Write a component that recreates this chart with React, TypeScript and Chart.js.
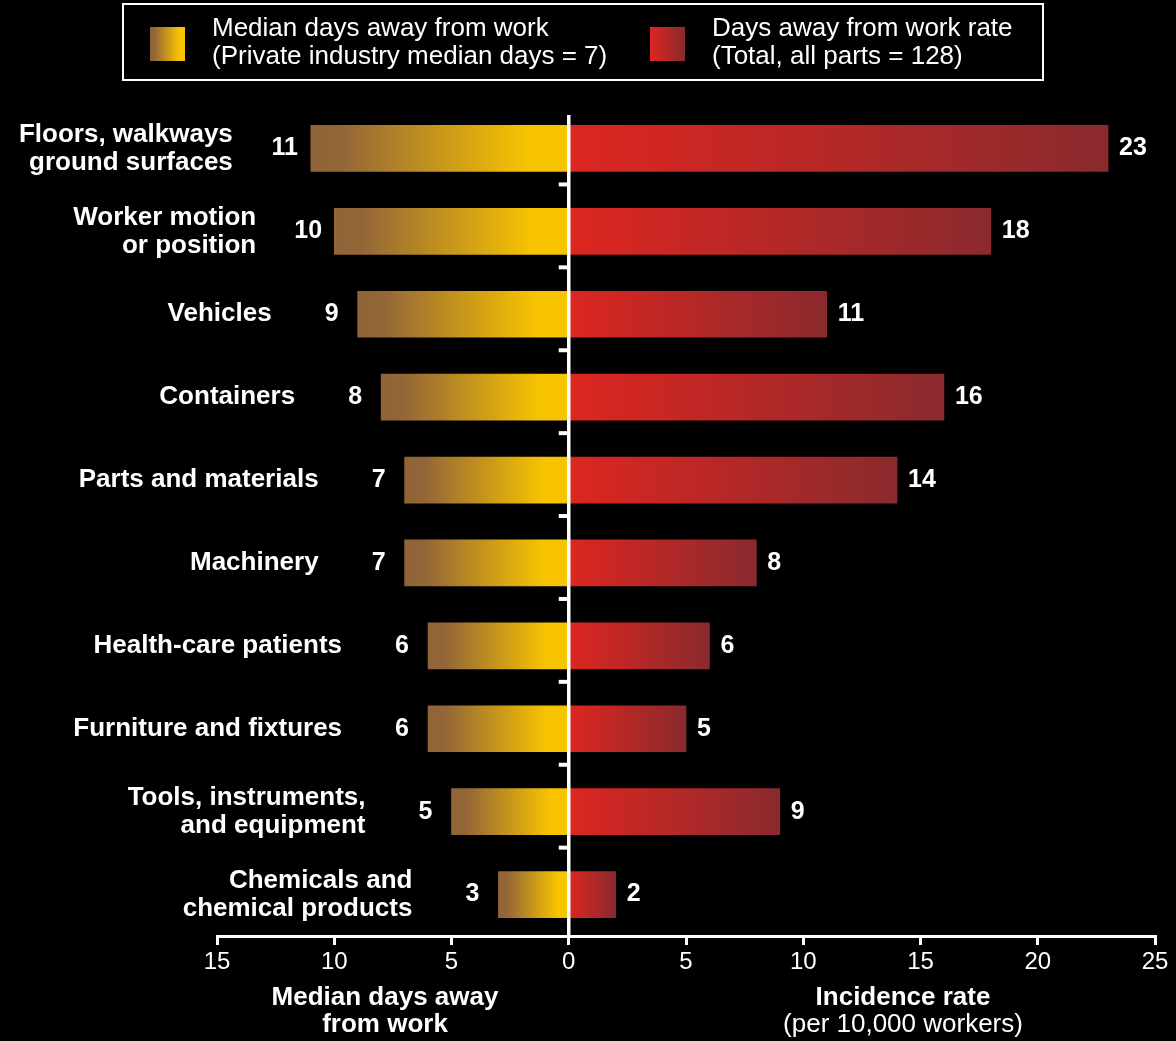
import React, { useEffect, useRef } from "react";
import { Chart, registerables } from "chart.js";

Chart.register(...registerables);

const categories: string[][] = [
  ["Floors, walkways", "ground surfaces"],
  ["Worker motion", "or position"],
  ["Vehicles"],
  ["Containers"],
  ["Parts and materials"],
  ["Machinery"],
  ["Health-care patients"],
  ["Furniture and fixtures"],
  ["Tools, instruments,", "and equipment"],
  ["Chemicals and", "chemical products"],
];
const medianDays: number[] = [11, 10, 9, 8, 7, 7, 6, 6, 5, 3];
const incidenceRate: number[] = [23, 18, 11, 16, 14, 8, 6, 5, 9, 2];
const xTickValues: number[] = [-15, -10, -5, 0, 5, 10, 15, 20, 25];

const legendLeft = ["Median days away from work", "(Private industry median days = 7)"];
const legendRight = ["Days away from work rate", "(Total, all parts = 128)"];
const leftTitle = ["Median days away", "from work"];
const rightTitle = ["Incidence rate", "(per 10,000 workers)"];

const FONT = "'Liberation Sans', Arial, Helvetica, sans-serif";

function yellowGrad(ctx: CanvasRenderingContext2D, x0: number, x1: number) {
  const g = ctx.createLinearGradient(x0, 0, x1, 0);
  g.addColorStop(0, "#8f6436");
  g.addColorStop(0.12, "#936638");
  g.addColorStop(0.85, "#f8c400");
  g.addColorStop(1, "#f8c400");
  return g;
}
function redGrad(ctx: CanvasRenderingContext2D, x0: number, x1: number) {
  const g = ctx.createLinearGradient(x0, 0, x1, 0);
  g.addColorStop(0, "#dd2620");
  g.addColorStop(1, "#8a2a2e");
  return g;
}

const overlay = {
  id: "overlay",
  beforeDraw(chart: any) {
    const ctx = chart.ctx as CanvasRenderingContext2D;
    ctx.save();
    ctx.fillStyle = "#000";
    ctx.fillRect(0, 0, chart.width, chart.height);
    ctx.restore();
  },
  afterDraw(chart: any) {
    const ctx = chart.ctx as CanvasRenderingContext2D;
    const xs = chart.scales.x;
    const ys = chart.scales.y;
    const ca = chart.chartArea;
    const x0 = xs.getPixelForValue(0);
    ctx.save();
    // legend
    ctx.strokeStyle = "#fff";
    ctx.lineWidth = 2;
    ctx.strokeRect(123, 4, 920, 76);
    ctx.fillStyle = yellowGrad(ctx, 150, 185);
    ctx.fillRect(150, 27, 35, 34);
    ctx.fillStyle = redGrad(ctx, 650, 685);
    ctx.fillRect(650, 27, 35, 34);
    ctx.fillStyle = "#fff";
    ctx.textBaseline = "middle";
    ctx.textAlign = "left";
    ctx.font = `26px ${FONT}`;
    ctx.fillText(legendLeft[0], 212, 29);
    ctx.fillText(legendLeft[1], 212, 57);
    ctx.fillText(legendRight[0], 712, 29);
    ctx.fillText(legendRight[1], 712, 57);

    // zero line
    ctx.strokeStyle = "#fff";
    ctx.lineWidth = 3.5;
    ctx.beginPath();
    ctx.moveTo(x0, 115);
    ctx.lineTo(x0, ca.bottom);
    ctx.stroke();
    // category ticks
    ctx.lineWidth = 4;
    for (let i = 0; i < categories.length - 1; i++) {
      const y = ys.getPixelForValue(i) + 36;
      ctx.beginPath();
      ctx.moveTo(x0 - 10, y);
      ctx.lineTo(x0, y);
      ctx.stroke();
    }

    // labels
    ctx.fillStyle = "#fff";
    for (let i = 0; i < categories.length; i++) {
      const yc = ys.getPixelForValue(i);
      const xl = xs.getPixelForValue(-medianDays[i]);
      const xr = xs.getPixelForValue(incidenceRate[i]);
      ctx.font = `bold 25px ${FONT}`;
      ctx.textAlign = "center";
      ctx.fillText(String(medianDays[i]), xl - 26, yc);
      ctx.textAlign = "left";
      ctx.fillText(String(incidenceRate[i]), xr + 11, yc);
      ctx.textAlign = "right";
      ctx.font = `bold 26px ${FONT}`;
      const lines = categories[i];
      const lh = 28;
      const start = yc - ((lines.length - 1) * lh) / 2;
      const off = medianDays[i] >= 10 ? 78 : 86;
      lines.forEach((ln, k) => ctx.fillText(ln, xl - off, start + k * lh));
    }

    // axis titles
    ctx.textAlign = "center";
    ctx.font = `bold 26px ${FONT}`;
    ctx.fillText(leftTitle[0], 385, 998);
    ctx.fillText(leftTitle[1], 385, 1025);
    ctx.fillText(rightTitle[0], 903, 998);
    ctx.font = `26px ${FONT}`;
    ctx.fillText(rightTitle[1], 903, 1025);
    ctx.restore();
  },
};

export default function App() {
  const ref = useRef<HTMLCanvasElement>(null);
  useEffect(() => {
    document.body.style.margin = "0";
    document.body.style.background = "#000";
    if (!ref.current) return;
    const chart = new Chart(ref.current, {
      type: "bar",
      data: {
        labels: categories.map((c) => c.join(" ")),
        datasets: [
          {
            label: legendLeft[0],
            data: medianDays.map((v) => -v),
            barThickness: 46,
            borderWidth: 0,
            backgroundColor: (c: any) => {
              const chart = c.chart;
              const xs = chart.scales?.x;
              if (!chart.chartArea || !xs || c.dataIndex === undefined) return "#f8c400";
              return yellowGrad(chart.ctx, xs.getPixelForValue(-medianDays[c.dataIndex]), xs.getPixelForValue(0));
            },
          },
          {
            label: legendRight[0],
            data: incidenceRate,
            barThickness: 46,
            borderWidth: 0,
            backgroundColor: (c: any) => {
              const chart = c.chart;
              const xs = chart.scales?.x;
              if (!chart.chartArea || !xs || c.dataIndex === undefined) return "#dd2620";
              return redGrad(chart.ctx, xs.getPixelForValue(0), xs.getPixelForValue(incidenceRate[c.dataIndex]));
            },
          },
        ],
      },
      options: {
        indexAxis: "y",
        responsive: false,
        animation: false,
        devicePixelRatio: 1,
        layout: { padding: { left: 217, right: 21, top: 107, bottom: 60 } },
        plugins: { legend: { display: false }, tooltip: { enabled: false } },
        scales: {
          x: {
            type: "linear",
            min: -15,
            max: 25,
            stacked: true,
            afterBuildTicks: (s: any) => {
              s.ticks = xTickValues.map((v) => ({ value: v }));
            },
            afterFit: (s: any) => {
              s.height = 45;
            },
            ticks: {
              color: "#fff",
              font: { size: 24, family: FONT },
              padding: 3,
              maxRotation: 0,
              callback: (v: any) => String(Math.abs(Number(v))),
            },
            grid: { drawOnChartArea: false, drawTicks: true, tickLength: 9, color: "#fff", lineWidth: 3 },
            border: { display: true, color: "#fff", width: 3 },
          },
          y: { type: "category", display: false, stacked: true, offset: true },
        },
      },
      plugins: [overlay],
    } as any);
    return () => chart.destroy();
  }, []);
  return (
    <div style={{ width: 1176, height: 1041, background: "#000" }}>
      <canvas ref={ref} width={1176} height={1041} style={{ display: "block" }} />
    </div>
  );
}
